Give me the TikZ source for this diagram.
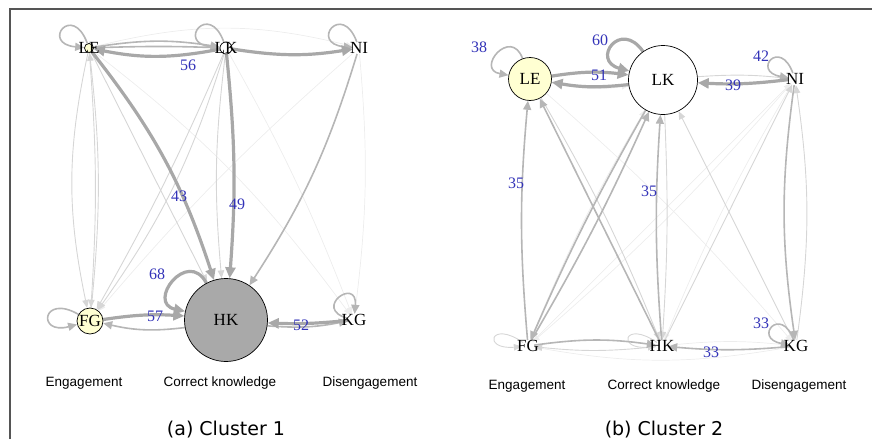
\documentclass[tikz,border=0pt]{standalone}
\usepackage{fontspec}
\setmainfont{Liberation Serif}
\newfontfamily\arialf{Liberation Sans}
\newfontfamily\capf{DejaVu Sans}
\usetikzlibrary{arrows.meta}
\pgfdeclarelayer{edgelayer}
\pgfsetlayers{edgelayer,main}
\definecolor{estrong}{HTML}{A8A8A8}
\definecolor{emed}{HTML}{B6B6B6}
\definecolor{elight}{HTML}{D6D6D6}
\definecolor{efaint}{HTML}{EDEDED}
\definecolor{numblue}{HTML}{3333B8}
\definecolor{vyellow}{HTML}{FFFFD2}
\definecolor{vgray}{HTML}{A9A9A9}
\definecolor{framec}{HTML}{555555}
\tikzset{
  vlab/.style={font=\fontsize{17}{17}\selectfont, inner sep=0pt},
  num/.style={text=numblue, font=\fontsize{16}{16}\selectfont, inner sep=0pt},
  cat/.style={font=\arialf\fontsize{13.5}{13.5}\selectfont, inner sep=0pt},
  captxt/.style={font=\capf\fontsize{19}{19}\selectfont, inner sep=0pt},
  tinyv/.style={circle, minimum size=12pt, inner sep=0pt},
  vcirc/.style={circle, draw=black, line width=0.7pt, inner sep=0pt, font=\fontsize{17}{17}\selectfont},
  es/.style={draw=estrong, line width=3.2pt, -{Triangle[length=11pt,width=10pt]}},
  em/.style={draw=emed, line width=1.6pt, -{Triangle[length=9pt,width=8pt]}},
  el/.style={draw=elight, line width=0.9pt, -{Triangle[length=8pt,width=6.5pt]}},
  ef/.style={draw=efaint, line width=0.7pt, -{Triangle[length=7pt,width=5.5pt]}},
}
\begin{document}
\begin{tikzpicture}[x=1pt,y=-1pt]
\useasboundingbox (0,0) rectangle (872,439);
\draw[framec, line width=1.2pt] (10,439) -- (10,9) -- (872,9);

% ---------------- Cluster 1 nodes
\node[vcirc, fill=vyellow, minimum size=9pt, label={[vlab]center:LE}] (aLE) at (89,48) {};
\node[vcirc, fill=white, minimum size=12pt, label={[vlab]center:LK}] (aLK) at (226,48) {};
\node[tinyv, label={[vlab]center:NI}] (aNI) at (359,48) {};
\node[vcirc, fill=vyellow, minimum size=26pt, label={[vlab]center:FG}] (aFG) at (90,321) {};
\node[vcirc, fill=vgray, minimum size=83pt] (aHK) at (226,320) {HK};
\node[tinyv, label={[vlab]center:KG}] (aKG) at (354,320) {};

% ---------------- Cluster 2 nodes
\node[vcirc, fill=vyellow, minimum size=43pt] (bLE) at (530,79) {LE};
\node[vcirc, fill=white, minimum size=69pt] (bLK) at (663,80) {LK};
\node[tinyv, label={[vlab]center:NI}] (bNI) at (795,79) {};
\node[tinyv, label={[vlab]center:FG}] (bFG) at (528,346) {};
\node[tinyv, label={[vlab]center:HK}] (bHK) at (662,346) {};
\node[tinyv, label={[vlab]center:KG}] (bKG) at (796,346) {};

\begin{pgfonlayer}{edgelayer}
% ----- cluster 1 faint
\draw[ef] (aLE) to[bend left=14] (aNI);
\draw[ef] (aLE) to[bend left=8] (aKG);
\draw[ef] (aLK) to[bend left=4] (aKG);
\draw[ef] (aNI) to[bend left=6] (aKG);
\draw[ef] (aNI) to[bend right=4] (aFG);
% ----- cluster 1 light
\draw[el] (aLE) to[bend right=12] (aFG);
\draw[el] (aLE) to[bend left=4] (aFG);
\draw[el] (aFG) to[bend right=6] (aLE);
\draw[el] (aLK) to[bend left=3] (aFG);
\draw[el] (aLK) to[bend left=9] (aFG);
\draw[el] (aLE) to (aHK);
\draw[el] (aLK) to[bend right=6] (aHK);
% ----- cluster 1 medium
\draw[em] (aNI) to[bend left=8] (aHK);
\draw[em] (aLE) to[bend left=9] (aLK);
\draw[em] (aLE) to[bend left=2] (aLK);
\draw[em] (aHK) to[bend left=10] (aFG);
\draw[em] (aHK) to[bend right=8] (aKG);
\draw[em] (aLE) to[out=110,in=175,min distance=44pt] (aLE);
\draw[em] (aLK) to[out=110,in=175,min distance=44pt] (aLK);
\draw[em] (aNI) to[out=110,in=175,min distance=44pt] (aNI);
\draw[em] (aFG) to[out=150,in=195,min distance=42pt] (aFG);
\draw[em] (aKG) to[out=165,in=85,min distance=38pt] (aKG);
% ----- cluster 1 strong
\draw[es] (aLK) to[bend left=11] (aLE);
\draw[es] (aLK) to[bend right=9] (aNI);
\draw[es] (aLE) to[bend left=10] (aHK);
\draw[es] (aLK) to[bend left=5] (aHK);
\draw[es] (aFG) to[bend left=6] (aHK);
\draw[es] (aKG) to[bend left=4] (aHK);
\draw[es] (aHK) to[out=118,in=168,min distance=40pt] (aHK);

% ----- cluster 2 faint
\draw[ef] (bLE) to[bend left=4] (bKG);
\draw[ef] (bFG) to (bNI);
\draw[ef] (bNI) to[bend left=4] (bFG);
\draw[ef] (bHK) to[bend left=6] (bKG);
\draw[ef] (bKG) to[bend left=10] (bFG);
\draw[ef] (bLE) to[bend right=10] (bLK);
\draw[ef] (bNI) to[bend right=4] (bHK);
\draw[ef] (bFG) to[bend left=4] (bLK);
% ----- cluster 2 light
\draw[el] (bLK) to[bend left=5] (bNI);
\draw[el] (bLK) to[bend left=3] (bHK);
\draw[el] (bKG) to (bLK);
\draw[el] (bHK) to (bNI);
\draw[el] (bKG) to[bend right=8] (bNI);
\draw[el] (bHK) to[bend left=6] (bFG);
\draw[el] (bLE) to[bend left=4] (bHK);
\draw[el] (bFG) to[out=145,in=185,min distance=40pt] (bFG);
\draw[el] (bHK) to[out=145,in=185,min distance=40pt] (bHK);
% ----- cluster 2 medium
\draw[em] (bFG) to[bend left=5] (bLE);
\draw[em] (bHK) to (bLE);
\draw[em] (bFG) to[bend right=3] (bLK);
\draw[em] (bLK) to[bend right=3] (bFG);
\draw[em] (bHK) to[bend left=4] (bLK);
\draw[em] (bNI) to[bend right=8] (bKG);
\draw[em] (bFG) to[bend left=8] (bHK);
\draw[em] (bKG) to[bend left=5] (bHK);
\draw[em] (bLE) to[out=110,in=170,min distance=34pt] (bLE);
\draw[em] (bNI) to[out=110,in=170,min distance=38pt] (bNI);
\draw[em] (bKG) to[out=110,in=170,min distance=38pt] (bKG);
% ----- cluster 2 strong
\draw[es] (bLK) to[bend left=8] (bLE);
\draw[es] (bLE) to[bend left=8] (bLK);
\draw[es] (bNI) to[bend left=5] (bLK);
\draw[es] (bLK) to[out=125,in=165,min distance=40pt] (bLK);
\end{pgfonlayer}

% ---------------- edge numbers
\node[num] (n56) at (188,65) {56};
\node[num] (n43) at (179,196) {43};
\node[num] (n49) at (237,204) {49};
\node[num] (n68) at (157,274) {68};
\node[num] (n57) at (155,316) {57};
\node[num] (n52) at (301,325) {52};
\node[num] (m38) at (479,47) {38};
\node[num] (m60) at (600,40) {60};
\node[num] (m51) at (599,75) {51};
\node[num] (m42) at (761,56) {42};
\node[num] (m39) at (733,85) {39};
\node[num] (m35a) at (516,183) {35};
\node[num] (m35b) at (649,191) {35};
\node[num] (m33a) at (761,323) {33};
\node[num] (m33b) at (711,352) {33};

% ---------------- category labels
\node[cat] (ca1) at (84,383) {Engagement};
\node[cat] (ca2) at (220,383) {Correct knowledge};
\node[cat] (ca3) at (370,383) {Disengagement};
\node[cat] (cb1) at (527,386) {Engagement};
\node[cat] (cb2) at (664,386) {Correct knowledge};
\node[cat] (cb3) at (799,386) {Disengagement};

% ---------------- captions
\node[captxt] (capa) at (226,430) {(a) Cluster 1};
\node[captxt] (capb) at (664,430) {(b) Cluster 2};
\end{tikzpicture}
\end{document}
